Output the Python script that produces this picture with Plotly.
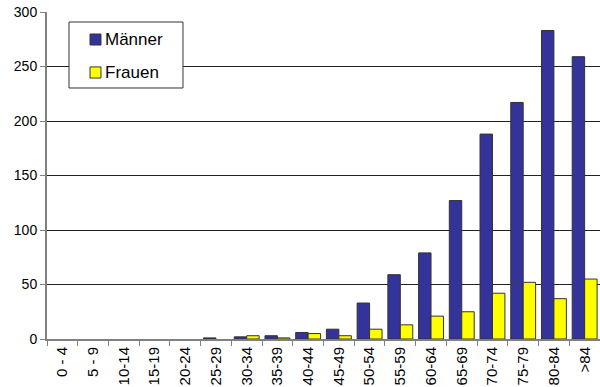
import plotly.graph_objects as go

# Age groups and counts per sex
age_groups = ["0 - 4", "5 - 9", "10-14", "15-19", "20-24", "25-29", "30-34",
              "35-39", "40-44", "45-49", "50-54", "55-59", "60-64", "65-69",
              "70-74", "75-79", "80-84", ">84"]
maenner = [0, 0, 0, 0, 0, 1, 2, 3, 6, 9, 33, 59, 79, 127, 188, 217, 283, 259]
frauen = [0, 0, 0, 0, 0, 0, 3, 1, 5, 3, 9, 13, 21, 25, 42, 52, 37, 55]
y_ticks = [0, 50, 100, 150, 200, 250, 300]

font_family = "Liberation Sans, Arial, sans-serif"
colors = {"Männer": "#333399", "Frauen": "#FFFF00"}
outline = "#333333"


def outline_widths(values):
    # empty groups get no outline so nothing shows on the baseline
    return [1 if v > 0 else 0 for v in values]


fig = go.Figure()
for name, values in (("Männer", maenner), ("Frauen", frauen)):
    fig.add_trace(go.Bar(
        x=age_groups, y=values, name=name, showlegend=False,
        marker=dict(color=colors[name],
                    line=dict(color=outline, width=outline_widths(values))),
    ))

# Legend box drawn in plot-area coordinates
shapes = [dict(type="rect", xref="paper", yref="paper",
               x0=0.0398, x1=0.2459, y0=0.7676, y1=0.9694,
               fillcolor="white", line=dict(color=outline, width=1), layer="above")]
annotations = []
for name, y0, y1 in (("Männer", 0.899, 0.9327), ("Frauen", 0.798, 0.832)):
    shapes.append(dict(type="rect", xref="paper", yref="paper",
                       x0=0.0778, x1=0.0976, y0=y0, y1=y1,
                       fillcolor=colors[name], line=dict(color=outline, width=1),
                       layer="above"))
    annotations.append(dict(text=name, xref="paper", yref="paper",
                            x=0.1013, y=(y0 + y1) / 2, xanchor="left",
                            yanchor="middle", showarrow=False,
                            font=dict(size=17, family=font_family, color="black")))

fig.update_layout(
    width=600, height=387,
    margin=dict(l=47, r=0, t=12, b=48),
    paper_bgcolor="white", plot_bgcolor="white",
    barmode="group", bargap=0.19, bargroupgap=0,
    font=dict(family=font_family, size=14, color="black"),
    shapes=shapes, annotations=annotations,
    xaxis=dict(
        type="category", tickangle=-90, tickson="boundaries",
        ticks="outside", ticklen=5, tickcolor="#808080",
        showline=True, linecolor="#808080", linewidth=2,
        showgrid=False, tickfont=dict(size=15),
    ),
    yaxis=dict(
        range=[0, 300], tickvals=y_ticks,
        ticks="outside", ticklen=5, tickcolor="#808080",
        showline=True, linecolor="#808080", linewidth=2,
        showgrid=True, gridcolor="#222222", gridwidth=1,
        zeroline=False, tickfont=dict(size=14),
    ),
)

fig.write_html("out.html")
